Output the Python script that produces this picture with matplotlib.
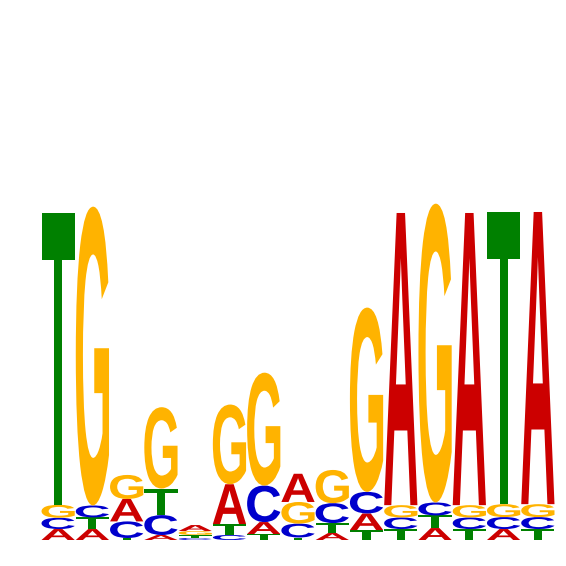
import matplotlib
matplotlib.use("Agg")
import matplotlib.pyplot as plt
from matplotlib.textpath import TextPath
from matplotlib.patches import PathPatch
from matplotlib.font_manager import FontProperties
from matplotlib.transforms import Affine2D

# letter heights (bits) per position
positions = list(range(1, 16))
height_A = [0.066, 0.066, 0.135, 0.030, 0.036, 0.240, 0.072, 0.170, 0.042, 0.100, 1.760, 0.072, 1.760, 0.066, 1.760]
height_C = [0.068, 0.072, 0.100, 0.120, 0.012, 0.030, 0.220, 0.084, 0.120, 0.130, 0.070, 0.078, 0.070, 0.072, 0.072]
height_G = [0.078, 1.800, 0.145, 0.490, 0.024, 0.480, 0.680, 0.130, 0.200, 1.110, 0.074, 1.800, 0.074, 0.078, 0.078]
height_T = [1.760, 0.070, 0.012, 0.160, 0.018, 0.066, 0.036, 0.015, 0.060, 0.060, 0.066, 0.076, 0.066, 1.760, 0.066]

COLORS = {"A": "#cc0000", "C": "#0000cc", "G": "#ffb300", "T": "#008000"}
FONT = FontProperties(family="Liberation Sans", weight="bold")


def draw_letter(ax, letter, x, y, w, h, color):
    path = TextPath((0, 0), letter, size=1, prop=FONT)
    bb = path.get_extents()
    t = (Affine2D()
         .translate(-bb.x0, -bb.y0)
         .scale(w / bb.width, h / bb.height)
         .translate(x - w / 2, y))
    ax.add_patch(PathPatch(t.transform_path(path), facecolor=color,
                           edgecolor="none"))


fig = plt.figure(figsize=(5.66, 5.66), dpi=100)
ax = fig.add_axes([41 / 566, 26 / 566, 514 / 566, 498 / 566])

for i, pos in enumerate(positions):
    heights = {"A": height_A[i], "C": height_C[i],
               "G": height_G[i], "T": height_T[i]}
    # smallest letter at the bottom
    y = 0.0
    for letter, h in sorted(heights.items(), key=lambda kv: kv[1]):
        draw_letter(ax, letter, pos, y, 0.97, h, COLORS[letter])
        y += h

ax.set_xlim(0.5, 15.5)
ax.set_ylim(0, 3)
ax.axis("off")

fig.savefig("out.png", dpi=100)
